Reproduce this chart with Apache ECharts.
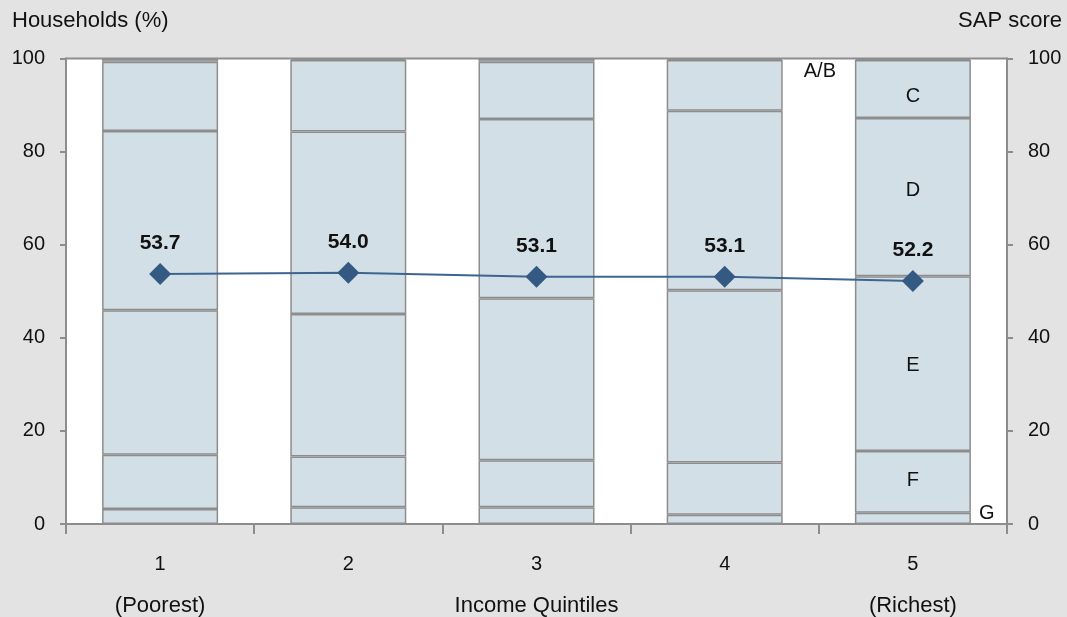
<!DOCTYPE html>
<html>
<head>
<meta charset="utf-8">
<script src="https://cdn.jsdelivr.net/npm/echarts@6/dist/echarts.min.js"></script>
<style>
html,body{margin:0;padding:0;background:#e3e3e3;}
#chart{width:1067px;height:617px;}
</style>
</head>
<body>
<div id="chart"></div>
<script>
// ---- data ----
var quintiles = ['1', '2', '3', '4', '5'];
var quintileNotes = ['(Poorest)', '', 'Income Quintiles', '', '(Richest)'];
var segmentNames = ['G', 'F', 'E', 'D', 'C', 'A/B'];
var segG  = [3.2, 3.6, 3.6, 2.0, 2.4];
var segF  = [11.7, 10.9, 10.1, 11.2, 13.3];
var segE  = [31.0, 30.6, 34.8, 37.0, 37.5];
var segD  = [38.5, 39.2, 38.5, 38.6, 34.0];
var segC  = [14.9, 15.4, 12.3, 10.9, 12.5];
var segAB = [0.7, 0.3, 0.7, 0.3, 0.3];
var sapScore = [53.7, 54.0, 53.1, 53.1, 52.2];
var yTicks = [0, 20, 40, 60, 80, 100];

var FONT = '"Liberation Sans", Arial, sans-serif';
var segData = [segG, segF, segE, segD, segC, segAB];
var labelIndex = 4; // segment letters shown on the last (richest) bar
var labelShift = {C: [0, 7], D: [0, -7], E: [0, 2], F: [0, -1]};

function segLabel(name) {
  var base = {show: true, color: '#111', fontSize: 20, fontFamily: FONT,
              formatter: name};
  if (name === 'G') {
    base.position = [132, 1]; base.align = 'center'; base.verticalAlign = 'middle';
  } else if (name === 'A/B') {
    base.position = [-35, 13]; base.align = 'center'; base.verticalAlign = 'middle';
  } else {
    base.position = 'inside';
    base.offset = labelShift[name];
  }
  return base;
}

var barSeries = segmentNames.map(function (name, si) {
  return {
    name: name,
    type: 'bar',
    stack: 'hh',
    barWidth: 116,
    itemStyle: {color: '#d3dfe6', borderColor: '#8d8d8d', borderWidth: 1.5},
    emphasis: {disabled: true},
    label: {show: false},
    data: segData[si].map(function (v, i) {
      if (i === labelIndex) return {value: v, label: segLabel(name)};
      return v;
    }),
    z: 2
  };
});

var chart = echarts.init(document.getElementById('chart'));
chart.setOption({
  backgroundColor: '#e3e3e3',
  animation: false,
  textStyle: {fontFamily: FONT},
  title: [
    {text: 'Households (%)', left: 12, top: 10, padding: 0,
     textStyle: {fontSize: 22, fontWeight: 'normal', color: '#111', fontFamily: FONT}},
    {text: 'SAP score', right: 5, top: 10, padding: 0,
     textStyle: {fontSize: 22, fontWeight: 'normal', color: '#111', fontFamily: FONT}}
  ],
  grid: {left: 66, right: 60, top: 58.5, bottom: 93, show: true,
         outerBoundsMode: 'none', containLabel: false,
         backgroundColor: '#ffffff', borderColor: '#8d8d8d', borderWidth: 2},
  xAxis: {
    type: 'category',
    data: quintiles,
    axisLine: {lineStyle: {color: '#8d8d8d', width: 2}},
    axisTick: {show: true, interval: 0, length: 10, lineStyle: {color: '#8d8d8d', width: 2}},
    axisLabel: {
      interval: 0, color: '#111', margin: 20,
      formatter: function (v, i) {
        return quintileNotes[i] ? '{n|' + v + '}\n{w|' + quintileNotes[i] + '}' : '{n|' + v + '}';
      },
      rich: {
        n: {fontSize: 20, lineHeight: 41, color: '#111', fontFamily: FONT},
        w: {fontSize: 22, lineHeight: 41, color: '#111', fontFamily: FONT}
      }
    }
  },
  yAxis: [
    {type: 'value', min: yTicks[0], max: yTicks[yTicks.length - 1], interval: 20,
     axisLine: {show: true, lineStyle: {color: '#8d8d8d', width: 2}},
     axisTick: {show: true, length: 6, lineStyle: {color: '#8d8d8d', width: 2}},
     splitLine: {show: false},
     axisLabel: {color: '#111', fontSize: 20, margin: 21}},
    {type: 'value', min: yTicks[0], max: yTicks[yTicks.length - 1], interval: 20,
     position: 'right',
     axisLine: {show: true, lineStyle: {color: '#8d8d8d', width: 2}},
     axisTick: {show: true, length: 6, lineStyle: {color: '#8d8d8d', width: 2}},
     splitLine: {show: false},
     axisLabel: {color: '#111', fontSize: 20, margin: 21}}
  ],
  series: barSeries.concat([{
    name: 'SAP score',
    type: 'line',
    yAxisIndex: 1,
    data: sapScore,
    symbol: 'diamond',
    symbolSize: 22,
    itemStyle: {color: '#345a84'},
    lineStyle: {color: '#3e6590', width: 2},
    label: {show: true, position: 'top', distance: 9, color: '#111',
            fontSize: 21, fontWeight: 'bold', fontFamily: FONT,
            formatter: function (p) { return p.value.toFixed(1); }},
    emphasis: {disabled: true},
    z: 5
  }])
});
</script>
</body>
</html>
